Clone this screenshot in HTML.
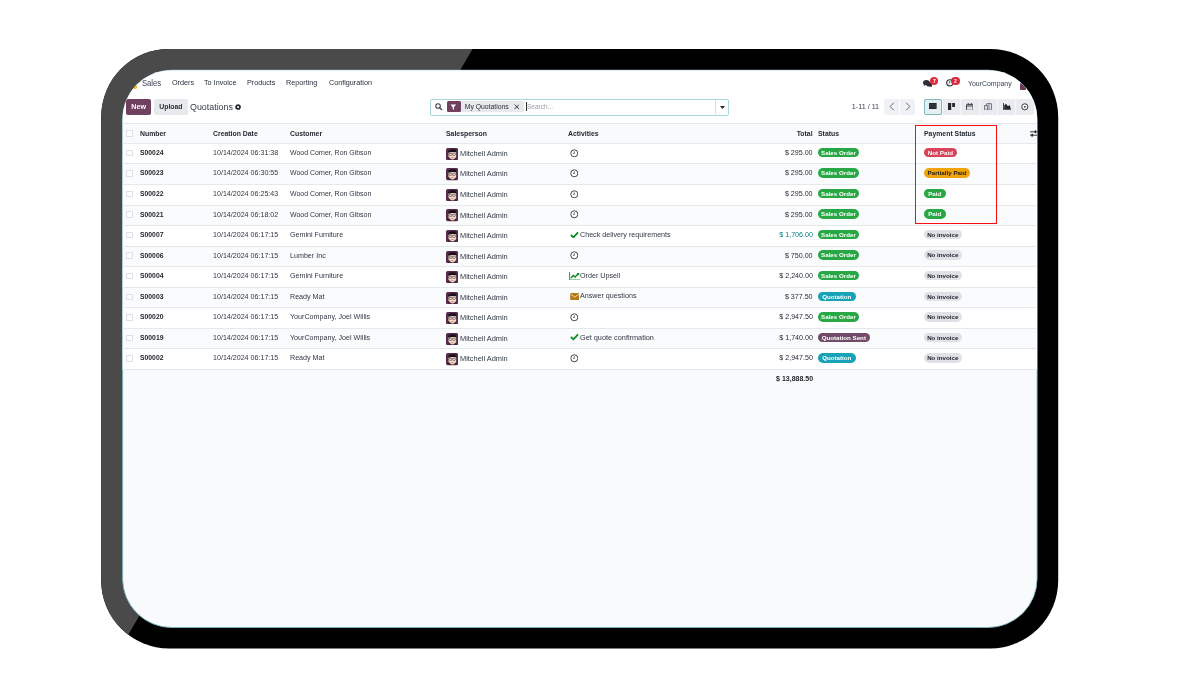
<!DOCTYPE html>
<html><head><meta charset="utf-8"><title>Quotations</title>
<style>
html,body{margin:0;padding:0;background:#fff;}
body{width:1200px;height:697px;position:relative;overflow:hidden;font-family:"Liberation Sans",sans-serif;color:#374151;}
#frame{position:absolute;left:0;top:0;}
#screen{position:absolute;left:0;top:0;width:1200px;height:697px;clip-path:inset(70.2px 162.9px 69.5px 122.6px round 49px);}
#screen *{position:absolute;white-space:nowrap;}
.t{font-size:7.6px;line-height:12px;height:12px;color:#2f3643;transform:scaleX(.936);transform-origin:0 50%;}
.b{font-weight:bold;color:#22262e;transform:scaleX(.896);}
.teal{color:#017e84;}
.amt{color:#262c38;}
.nav{font-size:7.6px;line-height:12px;color:#1f2937;transform:scaleX(.95);transform-origin:0 50%;}
.row{left:122px;width:916px;}
.ln{left:122px;width:916px;height:1px;background:#e5e8ec;}
.cb{left:126.2px;width:6.4px;height:6.4px;border:.7px solid #dcdfe8;border-radius:.8px;background:#fff;box-sizing:border-box;}
.bd{font-size:6.2px;font-weight:bold;line-height:9.4px;height:9.4px;border-radius:5px;padding:0;text-align:center;color:#fff;}
.so,.pd{background:#28a745;}
.so{width:41.3px}.np{width:33.4px}.pp{width:46.7px}.pd{width:22.2px}.ni{width:38.2px}.qu{width:38px}.qs{width:52px}
.np{background:#d6455a;}
.pp{background:#f0a30a;color:#222;}
.ni{background:#dfe1e7;color:#1b1e26;}
.qu{background:#17a2b8;}
.qs{background:#714b67;}
.hd{font-size:7.6px;font-weight:bold;line-height:12px;color:#1f2430;top:127.6px;transform:scaleX(.906);transform-origin:0 50%;}
.r{transform-origin:100% 50% !important;}
</style></head><body>
<svg id="frame" width="1200" height="697" viewBox="0 0 1200 697">
<defs><clipPath id="fc"><rect x="101.2" y="48.9" width="957" height="599.6" rx="68" ry="68"/></clipPath></defs>
<rect x="101.2" y="48.9" width="957" height="599.6" rx="68" ry="68" fill="#000"/>
<polygon points="0,0 501.4,0 91.6,697 0,697" fill="#4a4a4a" clip-path="url(#fc)"/>
<rect x="122.6" y="70.2" width="914.5" height="557.3" rx="49" ry="49" fill="#f9fafb" stroke="#7ab4c2" stroke-width=".9"/>
</svg>
<div id="screen">
<div style="left:122px;top:70px;width:916px;height:53.4px;background:#fff"></div>
<!-- navbar -->
<div style="left:133.4px;top:85px;width:3.6px;height:3.6px;border-radius:50%;background:#f5b313"></div>
<span class="nav" style="left:141.6px;top:77.4px;font-size:8.5px;color:#374151;transform:scaleX(.9)">Sales</span>
<span class="nav" style="left:171.5px;top:77.2px">Orders</span>
<span class="nav" style="left:204.3px;top:77.2px">To Invoice</span>
<span class="nav" style="left:246.6px;top:77.2px">Products</span>
<span class="nav" style="left:286px;top:77.2px">Reporting</span>
<span class="nav" style="left:328.6px;top:77.2px">Configuration</span>
<!-- systray -->
<svg style="left:922.8px;top:79.8px" width="9.6" height="7.2" viewBox="0 0 9.6 7.2"><ellipse cx="3.4" cy="2.6" rx="3.4" ry="2.6" fill="#2b2f38"/><path d="M1 4.2L.6 6L3 4.8Z" fill="#2b2f38"/><ellipse cx="6.4" cy="4.4" rx="3" ry="2.2" fill="#2b2f38"/><path d="M8 5.6L9.2 7.2L6.6 6.4Z" fill="#2b2f38"/></svg>
<div style="left:930.2px;top:76.6px;width:8.2px;height:8.2px;border-radius:50%;background:#e0283c"></div>
<span style="left:930.2px;top:76.6px;width:8.2px;text-align:center;font-size:5px;line-height:8.2px;color:#fff;font-weight:bold">7</span>
<svg style="left:946px;top:79.4px" width="7.6" height="7.6" viewBox="0 0 10 10"><circle cx="5" cy="5" r="4.1" fill="#fff" stroke="#2b2f38" stroke-width="1.4"/><path d="M5 2.6V5.2H3.4" stroke="#2b2f38" stroke-width="1" fill="none"/></svg>
<div style="left:951.4px;top:76.6px;width:8.2px;height:8.2px;border-radius:50%;background:#e0283c"></div>
<span style="left:951.4px;top:76.6px;width:8.2px;text-align:center;font-size:5px;line-height:8.2px;color:#fff;font-weight:bold">2</span>
<span class="nav" style="left:968px;top:77.7px;color:#374151;transform:scaleX(.913)">YourCompany</span>
<div style="left:1019.7px;top:83.4px;width:6px;height:6.4px;border-radius:1px;background:#6b3a5a"></div>
<!-- control panel -->
<div style="left:126px;top:98.8px;width:25.3px;height:16.2px;border-radius:2px;background:#70405f"></div>
<span style="left:126px;top:98.8px;width:25.3px;text-align:center;font-size:7.1px;font-weight:bold;line-height:16.4px;color:#fff">New</span>
<div style="left:153.9px;top:98.8px;width:34px;height:16.2px;border-radius:2px;background:#e7e9ed"></div>
<span style="left:153.9px;top:98.8px;width:34px;text-align:center;font-size:6.9px;font-weight:bold;line-height:16.4px;color:#2b2f38">Upload</span>
<span style="left:190px;top:100px;font-size:8.9px;line-height:14px;color:#374151">Quotations</span>
<svg style="left:235.2px;top:104px" width="6.2" height="6.2" viewBox="0 0 10 10"><circle cx="5" cy="5" r="3" fill="none" stroke="#1f2430" stroke-width="2.6"/><circle cx="5" cy="5" r="4.3" fill="none" stroke="#1f2430" stroke-width="1.4" stroke-dasharray="1.7 1.68"/></svg>
<!-- search -->
<div style="left:430.2px;top:98.5px;width:299px;height:17.2px;box-sizing:border-box;border:1px solid #a9d6d8;border-radius:2px;background:#fff"></div>
<div style="left:714.6px;top:99.5px;width:.8px;height:14.8px;background:#d9dde2"></div>
<svg style="left:435.3px;top:103px" width="7.6" height="7.6" viewBox="0 0 10 10"><circle cx="4" cy="4" r="3" fill="none" stroke="#3c3f4a" stroke-width="1.4"/><path d="M6.2 6.2L9.4 9.4" stroke="#3c3f4a" stroke-width="1.6"/></svg>
<div style="left:446.6px;top:101.4px;width:77.6px;height:10.8px;border-radius:1.5px;background:#e7e9ed"></div>
<div style="left:446.6px;top:101.4px;width:14.2px;height:10.8px;border-radius:1.5px;background:#70405f"></div>
<svg style="left:450.4px;top:103.6px" width="6.6" height="6.4" viewBox="0 0 10 10"><path d="M.6 .8H9.4L6 5V9.4L4 8V5Z" fill="#fff"/></svg>
<span style="left:464.8px;top:100.8px;font-size:6.8px;line-height:12px;color:#2b2f38">My Quotations</span>
<svg style="left:513.6px;top:104px" width="5.6" height="5.6" viewBox="0 0 10 10"><path d="M1 1L9 9M9 1L1 9" stroke="#2b2f38" stroke-width="1.7"/></svg>
<div style="left:526.4px;top:102.4px;width:.7px;height:8.8px;background:#333"></div>
<span style="left:527px;top:100.8px;font-size:6.5px;line-height:12px;color:#9aa0aa">Search...</span>
<svg style="left:719.6px;top:105.6px" width="5" height="3" viewBox="0 0 10 6"><path d="M0 0H10L5 6Z" fill="#1f2430"/></svg>
<!-- pager -->
<span style="left:851.8px;top:101.1px;font-size:7.2px;line-height:12px;color:#374151">1-11 / 11</span>
<div style="left:884.2px;top:99.2px;width:14.9px;height:15.6px;background:#eff1f4;border-radius:2px 0 0 2px"></div>
<div style="left:900px;top:99.2px;width:14.9px;height:15.6px;background:#eff1f4;border-radius:0 2px 2px 0"></div>
<svg style="left:888.6px;top:102.4px" width="6" height="9" viewBox="0 0 6 9"><path d="M4.8 .8L1.2 4.5L4.8 8.2" stroke="#565b66" stroke-width=".9" fill="none"/></svg>
<svg style="left:904.6px;top:102.4px" width="6" height="9" viewBox="0 0 6 9"><path d="M1.2 .8L4.8 4.5L1.2 8.2" stroke="#565b66" stroke-width=".9" fill="none"/></svg>
<!-- view switcher -->
<div style="left:923.8px;top:99.2px;width:110.4px;height:15.6px;background:#e9ebef;border-radius:2px"></div>
<div style="left:941.8px;top:99.2px;width:.8px;height:15.6px;background:#f6f7f9"></div>
<div style="left:960.2px;top:99.2px;width:.8px;height:15.6px;background:#f6f7f9"></div>
<div style="left:978.6px;top:99.2px;width:.8px;height:15.6px;background:#f6f7f9"></div>
<div style="left:997px;top:99.2px;width:.8px;height:15.6px;background:#f6f7f9"></div>
<div style="left:1015.4px;top:99.2px;width:.8px;height:15.6px;background:#f6f7f9"></div>
<div style="left:923.8px;top:98.8px;width:18.2px;height:16.4px;box-sizing:border-box;background:#e3f0f1;border:1px solid #7fb9bc;border-radius:2px"></div>
<svg style="left:929.2px;top:103.4px" width="7.6" height="6" viewBox="0 0 7.6 6"><rect width="7.6" height="6" rx=".5" fill="#23272f"/><path d="M0 2H7.6M0 4H7.6" stroke="#596070" stroke-width=".5"/></svg>
<svg style="left:947.6px;top:103px" width="7.6" height="7.4" viewBox="0 0 7.6 7.4"><rect width="3.2" height="7.4" fill="#23272f"/><rect x="4.2" width="3.4" height="4" fill="#23272f"/></svg>
<svg style="left:965.6px;top:102.6px" width="7.6" height="7.8" viewBox="0 0 7.6 7.8"><rect x=".5" y="1.4" width="6.6" height="5.9" rx=".7" fill="#dfe3e8" stroke="#3c414b" stroke-width="1"/><path d="M.5 3H7.1" stroke="#3c414b" stroke-width="1"/><path d="M2.2 0V2M5.4 0V2" stroke="#3c414b" stroke-width=".9"/></svg>
<svg style="left:984px;top:102.8px" width="8" height="7.6" viewBox="0 0 8 7.6"><rect x="2.6" y=".5" width="4.9" height="6.6" rx=".5" fill="#d8dce2" stroke="#6b717c" stroke-width=".9"/><rect x=".5" y="2.6" width="3" height="4.5" fill="#d8dce2" stroke="#6b717c" stroke-width=".9"/><path d="M5 .5V7" stroke="#6b717c" stroke-width=".7"/></svg>
<svg style="left:1002.6px;top:103px" width="8" height="7.2" viewBox="0 0 8 7.2"><path d="M.4 0V6.8H8" stroke="#23272f" stroke-width=".9" fill="none"/><path d="M1.2 6.2V2.2L3 .8L5 3.2L6.4 2L7.6 4.6V6.2Z" fill="#23272f"/></svg>
<svg style="left:1021.4px;top:103px" width="7.6" height="7.6" viewBox="0 0 10 10"><circle cx="5" cy="5" r="4" fill="#fff" stroke="#23272f" stroke-width="1.2"/><circle cx="5" cy="5" r="1.2" fill="#23272f"/></svg>
<!-- table header -->
<div style="left:122px;top:123px;width:916px;height:20.4px;background:#f9fafb"></div>
<div class="cb" style="top:130.2px"></div>
<span class="hd" style="left:140.3px">Number</span>
<span class="hd" style="left:213.2px">Creation Date</span>
<span class="hd" style="left:290.2px">Customer</span>
<span class="hd" style="left:445.8px">Salesperson</span>
<span class="hd" style="left:568.4px">Activities</span>
<span class="hd r" style="right:387.2px">Total</span>
<span class="hd" style="left:817.8px">Status</span>
<span class="hd" style="left:923.8px">Payment Status</span>
<svg style="left:1029.6px;top:129.6px" width="8" height="7" viewBox="0 0 8 7"><path d="M0 1.8H8M0 5.2H8" stroke="#23272f" stroke-width=".9"/><rect x="4.6" y=".4" width="1.6" height="2.8" fill="#23272f"/><rect x="1.4" y="3.8" width="1.6" height="2.8" fill="#23272f"/></svg>
<div class="ln" style="top:122.9px"></div>
<div class="row" style="top:143.35px;height:20.55px;background:#ffffff"></div>
<div class="ln" style="top:142.85px"></div>
<div class="cb" style="top:149.72px"></div>
<span class="t b" style="left:140.3px;top:146.92px;">S00024</span>
<span class="t " style="left:213.2px;top:146.92px;">10/14/2024 06:31:38</span>
<span class="t " style="left:290.3px;top:146.92px;transform:scaleX(.914)">Wood Corner, Ron Gibson</span>
<svg class="av" style="left:445.8px;top:147.82px" width="12.2" height="12.2" viewBox="0 0 12 12"><rect width="12" height="12" rx="1.7" fill="#582a4c"/><path d="M2.6 5.2L2.2 3.2Q3 1.2 6.2 1.3Q9.2 1 10.4 2.6L9.6 5.4Z" fill="#17121a"/><path d="M2.4 4.6Q6 3.2 9.9 4.3L10 8Q9 11.1 6.4 11.3Q3.6 11.1 2.5 8.2Z" fill="#f3dcc6"/><rect x="3.1" y="5.2" width="2.7" height="2" rx=".6" fill="#f7efe6" stroke="#3a2a30" stroke-width=".6"/><rect x="6.5" y="5.2" width="2.7" height="2" rx=".6" fill="#f7efe6" stroke="#3a2a30" stroke-width=".6"/><path d="M5 9.3Q6.3 10 7.6 9.2" stroke="#9a5a4a" stroke-width=".55" fill="none"/><path d="M1.6 11.2Q3 9.6 4 10.2L6.3 11.6L8.6 10.2Q9.8 9.8 10.6 11.2Z" fill="#2a1c24" opacity=".55"/></svg>
<span class="t " style="left:459.9px;top:146.92px;margin-top:1px;transform:scaleX(.975)">Mitchell Admin</span>
<svg class="ic" style="left:569.9px;top:148.625px" width="8.6" height="8.6" viewBox="0 0 10 10"><circle cx="5" cy="5" r="4.1" fill="#fff" stroke="#3c3f4a" stroke-width="1.1"/><path d="M5 2.8V5.2H3.6" stroke="#3c3f4a" stroke-width=".9" fill="none"/></svg>
<span class="t r amt" style="right:387.20000000000005px;top:146.92px;">$ 295.00</span>
<span class="bd so" style="left:817.8px;top:147.72px">Sales Order</span>
<span class="bd np" style="left:923.7px;top:147.72px">Not Paid</span>
<div class="row" style="top:163.90px;height:20.55px;background:#fafbfc"></div>
<div class="ln" style="top:163.40px"></div>
<div class="cb" style="top:170.28px"></div>
<span class="t b" style="left:140.3px;top:167.47px;">S00023</span>
<span class="t " style="left:213.2px;top:167.47px;">10/14/2024 06:30:55</span>
<span class="t " style="left:290.3px;top:167.47px;transform:scaleX(.914)">Wood Corner, Ron Gibson</span>
<svg class="av" style="left:445.8px;top:168.38px" width="12.2" height="12.2" viewBox="0 0 12 12"><rect width="12" height="12" rx="1.7" fill="#582a4c"/><path d="M2.6 5.2L2.2 3.2Q3 1.2 6.2 1.3Q9.2 1 10.4 2.6L9.6 5.4Z" fill="#17121a"/><path d="M2.4 4.6Q6 3.2 9.9 4.3L10 8Q9 11.1 6.4 11.3Q3.6 11.1 2.5 8.2Z" fill="#f3dcc6"/><rect x="3.1" y="5.2" width="2.7" height="2" rx=".6" fill="#f7efe6" stroke="#3a2a30" stroke-width=".6"/><rect x="6.5" y="5.2" width="2.7" height="2" rx=".6" fill="#f7efe6" stroke="#3a2a30" stroke-width=".6"/><path d="M5 9.3Q6.3 10 7.6 9.2" stroke="#9a5a4a" stroke-width=".55" fill="none"/><path d="M1.6 11.2Q3 9.6 4 10.2L6.3 11.6L8.6 10.2Q9.8 9.8 10.6 11.2Z" fill="#2a1c24" opacity=".55"/></svg>
<span class="t " style="left:459.9px;top:167.47px;margin-top:1px;transform:scaleX(.975)">Mitchell Admin</span>
<svg class="ic" style="left:569.9px;top:169.175px" width="8.6" height="8.6" viewBox="0 0 10 10"><circle cx="5" cy="5" r="4.1" fill="#fff" stroke="#3c3f4a" stroke-width="1.1"/><path d="M5 2.8V5.2H3.6" stroke="#3c3f4a" stroke-width=".9" fill="none"/></svg>
<span class="t r amt" style="right:387.20000000000005px;top:167.47px;">$ 295.00</span>
<span class="bd so" style="left:817.8px;top:168.28px">Sales Order</span>
<span class="bd pp" style="left:923.7px;top:168.28px">Partially Paid</span>
<div class="row" style="top:184.45px;height:20.55px;background:#ffffff"></div>
<div class="ln" style="top:183.95px"></div>
<div class="cb" style="top:190.82px"></div>
<span class="t b" style="left:140.3px;top:188.02px;">S00022</span>
<span class="t " style="left:213.2px;top:188.02px;">10/14/2024 06:25:43</span>
<span class="t " style="left:290.3px;top:188.02px;transform:scaleX(.914)">Wood Corner, Ron Gibson</span>
<svg class="av" style="left:445.8px;top:188.92px" width="12.2" height="12.2" viewBox="0 0 12 12"><rect width="12" height="12" rx="1.7" fill="#582a4c"/><path d="M2.6 5.2L2.2 3.2Q3 1.2 6.2 1.3Q9.2 1 10.4 2.6L9.6 5.4Z" fill="#17121a"/><path d="M2.4 4.6Q6 3.2 9.9 4.3L10 8Q9 11.1 6.4 11.3Q3.6 11.1 2.5 8.2Z" fill="#f3dcc6"/><rect x="3.1" y="5.2" width="2.7" height="2" rx=".6" fill="#f7efe6" stroke="#3a2a30" stroke-width=".6"/><rect x="6.5" y="5.2" width="2.7" height="2" rx=".6" fill="#f7efe6" stroke="#3a2a30" stroke-width=".6"/><path d="M5 9.3Q6.3 10 7.6 9.2" stroke="#9a5a4a" stroke-width=".55" fill="none"/><path d="M1.6 11.2Q3 9.6 4 10.2L6.3 11.6L8.6 10.2Q9.8 9.8 10.6 11.2Z" fill="#2a1c24" opacity=".55"/></svg>
<span class="t " style="left:459.9px;top:188.02px;margin-top:1px;transform:scaleX(.975)">Mitchell Admin</span>
<svg class="ic" style="left:569.9px;top:189.725px" width="8.6" height="8.6" viewBox="0 0 10 10"><circle cx="5" cy="5" r="4.1" fill="#fff" stroke="#3c3f4a" stroke-width="1.1"/><path d="M5 2.8V5.2H3.6" stroke="#3c3f4a" stroke-width=".9" fill="none"/></svg>
<span class="t r amt" style="right:387.20000000000005px;top:188.02px;">$ 295.00</span>
<span class="bd so" style="left:817.8px;top:188.82px">Sales Order</span>
<span class="bd pd" style="left:923.7px;top:188.82px">Paid</span>
<div class="row" style="top:205.00px;height:20.55px;background:#fafbfc"></div>
<div class="ln" style="top:204.50px"></div>
<div class="cb" style="top:211.38px"></div>
<span class="t b" style="left:140.3px;top:208.57px;">S00021</span>
<span class="t " style="left:213.2px;top:208.57px;">10/14/2024 06:18:02</span>
<span class="t " style="left:290.3px;top:208.57px;transform:scaleX(.914)">Wood Corner, Ron Gibson</span>
<svg class="av" style="left:445.8px;top:209.47px" width="12.2" height="12.2" viewBox="0 0 12 12"><rect width="12" height="12" rx="1.7" fill="#582a4c"/><path d="M2.6 5.2L2.2 3.2Q3 1.2 6.2 1.3Q9.2 1 10.4 2.6L9.6 5.4Z" fill="#17121a"/><path d="M2.4 4.6Q6 3.2 9.9 4.3L10 8Q9 11.1 6.4 11.3Q3.6 11.1 2.5 8.2Z" fill="#f3dcc6"/><rect x="3.1" y="5.2" width="2.7" height="2" rx=".6" fill="#f7efe6" stroke="#3a2a30" stroke-width=".6"/><rect x="6.5" y="5.2" width="2.7" height="2" rx=".6" fill="#f7efe6" stroke="#3a2a30" stroke-width=".6"/><path d="M5 9.3Q6.3 10 7.6 9.2" stroke="#9a5a4a" stroke-width=".55" fill="none"/><path d="M1.6 11.2Q3 9.6 4 10.2L6.3 11.6L8.6 10.2Q9.8 9.8 10.6 11.2Z" fill="#2a1c24" opacity=".55"/></svg>
<span class="t " style="left:459.9px;top:208.57px;margin-top:1px;transform:scaleX(.975)">Mitchell Admin</span>
<svg class="ic" style="left:569.9px;top:210.275px" width="8.6" height="8.6" viewBox="0 0 10 10"><circle cx="5" cy="5" r="4.1" fill="#fff" stroke="#3c3f4a" stroke-width="1.1"/><path d="M5 2.8V5.2H3.6" stroke="#3c3f4a" stroke-width=".9" fill="none"/></svg>
<span class="t r amt" style="right:387.20000000000005px;top:208.57px;">$ 295.00</span>
<span class="bd so" style="left:817.8px;top:209.38px">Sales Order</span>
<span class="bd pd" style="left:923.7px;top:209.38px">Paid</span>
<div class="row" style="top:225.55px;height:20.55px;background:#ffffff"></div>
<div class="ln" style="top:225.05px"></div>
<div class="cb" style="top:231.93px"></div>
<span class="t b" style="left:140.3px;top:229.12px;">S00007</span>
<span class="t " style="left:213.2px;top:229.12px;">10/14/2024 06:17:15</span>
<span class="t " style="left:290.3px;top:229.12px;transform:scaleX(.94)">Gemini Furniture</span>
<svg class="av" style="left:445.8px;top:230.03px" width="12.2" height="12.2" viewBox="0 0 12 12"><rect width="12" height="12" rx="1.7" fill="#582a4c"/><path d="M2.6 5.2L2.2 3.2Q3 1.2 6.2 1.3Q9.2 1 10.4 2.6L9.6 5.4Z" fill="#17121a"/><path d="M2.4 4.6Q6 3.2 9.9 4.3L10 8Q9 11.1 6.4 11.3Q3.6 11.1 2.5 8.2Z" fill="#f3dcc6"/><rect x="3.1" y="5.2" width="2.7" height="2" rx=".6" fill="#f7efe6" stroke="#3a2a30" stroke-width=".6"/><rect x="6.5" y="5.2" width="2.7" height="2" rx=".6" fill="#f7efe6" stroke="#3a2a30" stroke-width=".6"/><path d="M5 9.3Q6.3 10 7.6 9.2" stroke="#9a5a4a" stroke-width=".55" fill="none"/><path d="M1.6 11.2Q3 9.6 4 10.2L6.3 11.6L8.6 10.2Q9.8 9.8 10.6 11.2Z" fill="#2a1c24" opacity=".55"/></svg>
<span class="t " style="left:459.9px;top:229.12px;margin-top:1px;transform:scaleX(.975)">Mitchell Admin</span>
<svg class="ic" style="left:569.8px;top:230.625px" width="9" height="7.6" viewBox="0 0 10 8"><path d="M1 4.2L3.8 6.8L9 1.4" stroke="#0a8a1f" stroke-width="2" fill="none"/></svg>
<span class="t " style="left:580.3px;top:229.12px;margin-top:-.3px;transform:scaleX(.942)">Check delivery requirements</span>
<span class="t r teal" style="right:387.20000000000005px;top:229.12px;">$ 1,706.00</span>
<span class="bd so" style="left:817.8px;top:229.93px">Sales Order</span>
<span class="bd ni" style="left:923.7px;top:229.93px">No invoice</span>
<div class="row" style="top:246.10px;height:20.55px;background:#fafbfc"></div>
<div class="ln" style="top:245.60px"></div>
<div class="cb" style="top:252.47px"></div>
<span class="t b" style="left:140.3px;top:249.67px;">S00006</span>
<span class="t " style="left:213.2px;top:249.67px;">10/14/2024 06:17:15</span>
<span class="t " style="left:290.3px;top:249.67px;transform:scaleX(.94)">Lumber Inc</span>
<svg class="av" style="left:445.8px;top:250.57px" width="12.2" height="12.2" viewBox="0 0 12 12"><rect width="12" height="12" rx="1.7" fill="#582a4c"/><path d="M2.6 5.2L2.2 3.2Q3 1.2 6.2 1.3Q9.2 1 10.4 2.6L9.6 5.4Z" fill="#17121a"/><path d="M2.4 4.6Q6 3.2 9.9 4.3L10 8Q9 11.1 6.4 11.3Q3.6 11.1 2.5 8.2Z" fill="#f3dcc6"/><rect x="3.1" y="5.2" width="2.7" height="2" rx=".6" fill="#f7efe6" stroke="#3a2a30" stroke-width=".6"/><rect x="6.5" y="5.2" width="2.7" height="2" rx=".6" fill="#f7efe6" stroke="#3a2a30" stroke-width=".6"/><path d="M5 9.3Q6.3 10 7.6 9.2" stroke="#9a5a4a" stroke-width=".55" fill="none"/><path d="M1.6 11.2Q3 9.6 4 10.2L6.3 11.6L8.6 10.2Q9.8 9.8 10.6 11.2Z" fill="#2a1c24" opacity=".55"/></svg>
<span class="t " style="left:459.9px;top:249.67px;margin-top:1px;transform:scaleX(.975)">Mitchell Admin</span>
<svg class="ic" style="left:569.9px;top:251.375px" width="8.6" height="8.6" viewBox="0 0 10 10"><circle cx="5" cy="5" r="4.1" fill="#fff" stroke="#3c3f4a" stroke-width="1.1"/><path d="M5 2.8V5.2H3.6" stroke="#3c3f4a" stroke-width=".9" fill="none"/></svg>
<span class="t r amt" style="right:387.20000000000005px;top:249.67px;">$ 750.00</span>
<span class="bd so" style="left:817.8px;top:250.47px">Sales Order</span>
<span class="bd ni" style="left:923.7px;top:250.47px">No invoice</span>
<div class="row" style="top:266.65px;height:20.55px;background:#ffffff"></div>
<div class="ln" style="top:266.15px"></div>
<div class="cb" style="top:273.02px"></div>
<span class="t b" style="left:140.3px;top:270.22px;">S00004</span>
<span class="t " style="left:213.2px;top:270.22px;">10/14/2024 06:17:15</span>
<span class="t " style="left:290.3px;top:270.22px;transform:scaleX(.94)">Gemini Furniture</span>
<svg class="av" style="left:445.8px;top:271.12px" width="12.2" height="12.2" viewBox="0 0 12 12"><rect width="12" height="12" rx="1.7" fill="#582a4c"/><path d="M2.6 5.2L2.2 3.2Q3 1.2 6.2 1.3Q9.2 1 10.4 2.6L9.6 5.4Z" fill="#17121a"/><path d="M2.4 4.6Q6 3.2 9.9 4.3L10 8Q9 11.1 6.4 11.3Q3.6 11.1 2.5 8.2Z" fill="#f3dcc6"/><rect x="3.1" y="5.2" width="2.7" height="2" rx=".6" fill="#f7efe6" stroke="#3a2a30" stroke-width=".6"/><rect x="6.5" y="5.2" width="2.7" height="2" rx=".6" fill="#f7efe6" stroke="#3a2a30" stroke-width=".6"/><path d="M5 9.3Q6.3 10 7.6 9.2" stroke="#9a5a4a" stroke-width=".55" fill="none"/><path d="M1.6 11.2Q3 9.6 4 10.2L6.3 11.6L8.6 10.2Q9.8 9.8 10.6 11.2Z" fill="#2a1c24" opacity=".55"/></svg>
<span class="t " style="left:459.9px;top:270.22px;margin-top:1px;transform:scaleX(.975)">Mitchell Admin</span>
<svg class="ic" style="left:568.5999999999999px;top:271.62499999999994px" width="11.4" height="8.6" viewBox="0 0 12 9"><path d="M.6 0V8.4H12" stroke="#2aa146" stroke-width="1.1" fill="none"/><path d="M2 6.4L4.6 3.6L6.4 5.2L10 1.6" stroke="#0a8a1f" stroke-width="1.5" fill="none"/><path d="M8 1H10.8V3.8Z" fill="#0a8a1f"/></svg>
<span class="t " style="left:580.3px;top:270.22px;margin-top:-.3px;transform:scaleX(.942)">Order Upsell</span>
<span class="t r amt" style="right:387.20000000000005px;top:270.22px;">$ 2,240.00</span>
<span class="bd so" style="left:817.8px;top:271.02px">Sales Order</span>
<span class="bd ni" style="left:923.7px;top:271.02px">No invoice</span>
<div class="row" style="top:287.20px;height:20.55px;background:#fafbfc"></div>
<div class="ln" style="top:286.70px"></div>
<div class="cb" style="top:293.57px"></div>
<span class="t b" style="left:140.3px;top:290.77px;">S00003</span>
<span class="t " style="left:213.2px;top:290.77px;">10/14/2024 06:17:15</span>
<span class="t " style="left:290.3px;top:290.77px;transform:scaleX(.94)">Ready Mat</span>
<svg class="av" style="left:445.8px;top:291.67px" width="12.2" height="12.2" viewBox="0 0 12 12"><rect width="12" height="12" rx="1.7" fill="#582a4c"/><path d="M2.6 5.2L2.2 3.2Q3 1.2 6.2 1.3Q9.2 1 10.4 2.6L9.6 5.4Z" fill="#17121a"/><path d="M2.4 4.6Q6 3.2 9.9 4.3L10 8Q9 11.1 6.4 11.3Q3.6 11.1 2.5 8.2Z" fill="#f3dcc6"/><rect x="3.1" y="5.2" width="2.7" height="2" rx=".6" fill="#f7efe6" stroke="#3a2a30" stroke-width=".6"/><rect x="6.5" y="5.2" width="2.7" height="2" rx=".6" fill="#f7efe6" stroke="#3a2a30" stroke-width=".6"/><path d="M5 9.3Q6.3 10 7.6 9.2" stroke="#9a5a4a" stroke-width=".55" fill="none"/><path d="M1.6 11.2Q3 9.6 4 10.2L6.3 11.6L8.6 10.2Q9.8 9.8 10.6 11.2Z" fill="#2a1c24" opacity=".55"/></svg>
<span class="t " style="left:459.9px;top:290.77px;margin-top:1px;transform:scaleX(.975)">Mitchell Admin</span>
<svg class="ic" style="left:569.5999999999999px;top:292.97499999999997px" width="9.6" height="7" viewBox="0 0 10 7.6"><rect width="10" height="7.6" rx=".8" fill="#b5791c"/><path d="M.4 1L5 4.6L9.6 1" stroke="#fbe9cf" stroke-width=".9" fill="none"/></svg>
<span class="t " style="left:580.3px;top:290.77px;margin-top:-.3px;transform:scaleX(.942)">Answer questions</span>
<span class="t r amt" style="right:387.20000000000005px;top:290.77px;">$ 377.50</span>
<span class="bd qu" style="left:817.8px;top:291.57px">Quotation</span>
<span class="bd ni" style="left:923.7px;top:291.57px">No invoice</span>
<div class="row" style="top:307.75px;height:20.55px;background:#ffffff"></div>
<div class="ln" style="top:307.25px"></div>
<div class="cb" style="top:314.12px"></div>
<span class="t b" style="left:140.3px;top:311.32px;">S00020</span>
<span class="t " style="left:213.2px;top:311.32px;">10/14/2024 06:17:15</span>
<span class="t " style="left:290.3px;top:311.32px;transform:scaleX(.94)">YourCompany, Joel Willis</span>
<svg class="av" style="left:445.8px;top:312.22px" width="12.2" height="12.2" viewBox="0 0 12 12"><rect width="12" height="12" rx="1.7" fill="#582a4c"/><path d="M2.6 5.2L2.2 3.2Q3 1.2 6.2 1.3Q9.2 1 10.4 2.6L9.6 5.4Z" fill="#17121a"/><path d="M2.4 4.6Q6 3.2 9.9 4.3L10 8Q9 11.1 6.4 11.3Q3.6 11.1 2.5 8.2Z" fill="#f3dcc6"/><rect x="3.1" y="5.2" width="2.7" height="2" rx=".6" fill="#f7efe6" stroke="#3a2a30" stroke-width=".6"/><rect x="6.5" y="5.2" width="2.7" height="2" rx=".6" fill="#f7efe6" stroke="#3a2a30" stroke-width=".6"/><path d="M5 9.3Q6.3 10 7.6 9.2" stroke="#9a5a4a" stroke-width=".55" fill="none"/><path d="M1.6 11.2Q3 9.6 4 10.2L6.3 11.6L8.6 10.2Q9.8 9.8 10.6 11.2Z" fill="#2a1c24" opacity=".55"/></svg>
<span class="t " style="left:459.9px;top:311.32px;margin-top:1px;transform:scaleX(.975)">Mitchell Admin</span>
<svg class="ic" style="left:569.9px;top:313.025px" width="8.6" height="8.6" viewBox="0 0 10 10"><circle cx="5" cy="5" r="4.1" fill="#fff" stroke="#3c3f4a" stroke-width="1.1"/><path d="M5 2.8V5.2H3.6" stroke="#3c3f4a" stroke-width=".9" fill="none"/></svg>
<span class="t r amt" style="right:387.20000000000005px;top:311.32px;">$ 2,947.50</span>
<span class="bd so" style="left:817.8px;top:312.12px">Sales Order</span>
<span class="bd ni" style="left:923.7px;top:312.12px">No invoice</span>
<div class="row" style="top:328.30px;height:20.55px;background:#fafbfc"></div>
<div class="ln" style="top:327.80px"></div>
<div class="cb" style="top:334.67px"></div>
<span class="t b" style="left:140.3px;top:331.88px;">S00019</span>
<span class="t " style="left:213.2px;top:331.88px;">10/14/2024 06:17:15</span>
<span class="t " style="left:290.3px;top:331.88px;transform:scaleX(.94)">YourCompany, Joel Willis</span>
<svg class="av" style="left:445.8px;top:332.77px" width="12.2" height="12.2" viewBox="0 0 12 12"><rect width="12" height="12" rx="1.7" fill="#582a4c"/><path d="M2.6 5.2L2.2 3.2Q3 1.2 6.2 1.3Q9.2 1 10.4 2.6L9.6 5.4Z" fill="#17121a"/><path d="M2.4 4.6Q6 3.2 9.9 4.3L10 8Q9 11.1 6.4 11.3Q3.6 11.1 2.5 8.2Z" fill="#f3dcc6"/><rect x="3.1" y="5.2" width="2.7" height="2" rx=".6" fill="#f7efe6" stroke="#3a2a30" stroke-width=".6"/><rect x="6.5" y="5.2" width="2.7" height="2" rx=".6" fill="#f7efe6" stroke="#3a2a30" stroke-width=".6"/><path d="M5 9.3Q6.3 10 7.6 9.2" stroke="#9a5a4a" stroke-width=".55" fill="none"/><path d="M1.6 11.2Q3 9.6 4 10.2L6.3 11.6L8.6 10.2Q9.8 9.8 10.6 11.2Z" fill="#2a1c24" opacity=".55"/></svg>
<span class="t " style="left:459.9px;top:331.88px;margin-top:1px;transform:scaleX(.975)">Mitchell Admin</span>
<svg class="ic" style="left:569.8px;top:333.375px" width="9" height="7.6" viewBox="0 0 10 8"><path d="M1 4.2L3.8 6.8L9 1.4" stroke="#0a8a1f" stroke-width="2" fill="none"/></svg>
<span class="t " style="left:580.3px;top:331.88px;margin-top:-.3px;transform:scaleX(.962)">Get quote confirmation</span>
<span class="t r amt" style="right:387.20000000000005px;top:331.88px;">$ 1,740.00</span>
<span class="bd qs" style="left:817.8px;top:332.67px">Quotation Sent</span>
<span class="bd ni" style="left:923.7px;top:332.67px">No invoice</span>
<div class="row" style="top:348.85px;height:20.55px;background:#ffffff"></div>
<div class="ln" style="top:348.35px"></div>
<div class="cb" style="top:355.22px"></div>
<span class="t b" style="left:140.3px;top:352.43px;">S00002</span>
<span class="t " style="left:213.2px;top:352.43px;">10/14/2024 06:17:15</span>
<span class="t " style="left:290.3px;top:352.43px;transform:scaleX(.94)">Ready Mat</span>
<svg class="av" style="left:445.8px;top:353.32px" width="12.2" height="12.2" viewBox="0 0 12 12"><rect width="12" height="12" rx="1.7" fill="#582a4c"/><path d="M2.6 5.2L2.2 3.2Q3 1.2 6.2 1.3Q9.2 1 10.4 2.6L9.6 5.4Z" fill="#17121a"/><path d="M2.4 4.6Q6 3.2 9.9 4.3L10 8Q9 11.1 6.4 11.3Q3.6 11.1 2.5 8.2Z" fill="#f3dcc6"/><rect x="3.1" y="5.2" width="2.7" height="2" rx=".6" fill="#f7efe6" stroke="#3a2a30" stroke-width=".6"/><rect x="6.5" y="5.2" width="2.7" height="2" rx=".6" fill="#f7efe6" stroke="#3a2a30" stroke-width=".6"/><path d="M5 9.3Q6.3 10 7.6 9.2" stroke="#9a5a4a" stroke-width=".55" fill="none"/><path d="M1.6 11.2Q3 9.6 4 10.2L6.3 11.6L8.6 10.2Q9.8 9.8 10.6 11.2Z" fill="#2a1c24" opacity=".55"/></svg>
<span class="t " style="left:459.9px;top:352.43px;margin-top:1px;transform:scaleX(.975)">Mitchell Admin</span>
<svg class="ic" style="left:569.9px;top:354.125px" width="8.6" height="8.6" viewBox="0 0 10 10"><circle cx="5" cy="5" r="4.1" fill="#fff" stroke="#3c3f4a" stroke-width="1.1"/><path d="M5 2.8V5.2H3.6" stroke="#3c3f4a" stroke-width=".9" fill="none"/></svg>
<span class="t r amt" style="right:387.20000000000005px;top:352.43px;">$ 2,947.50</span>
<span class="bd qu" style="left:817.8px;top:353.22px">Quotation</span>
<span class="bd ni" style="left:923.7px;top:353.22px">No invoice</span>
<div class="ln" style="top:368.90px"></div>
<span class="t b r" style="right:387.2px;top:373.1px;transform:scaleX(.924)">$ 13,888.50</span>
<!-- highlight -->
<div style="left:914.7px;top:124.8px;width:82.5px;height:99.7px;box-sizing:border-box;border:1.8px solid #fb0d12"></div>
</div>
</body></html>
